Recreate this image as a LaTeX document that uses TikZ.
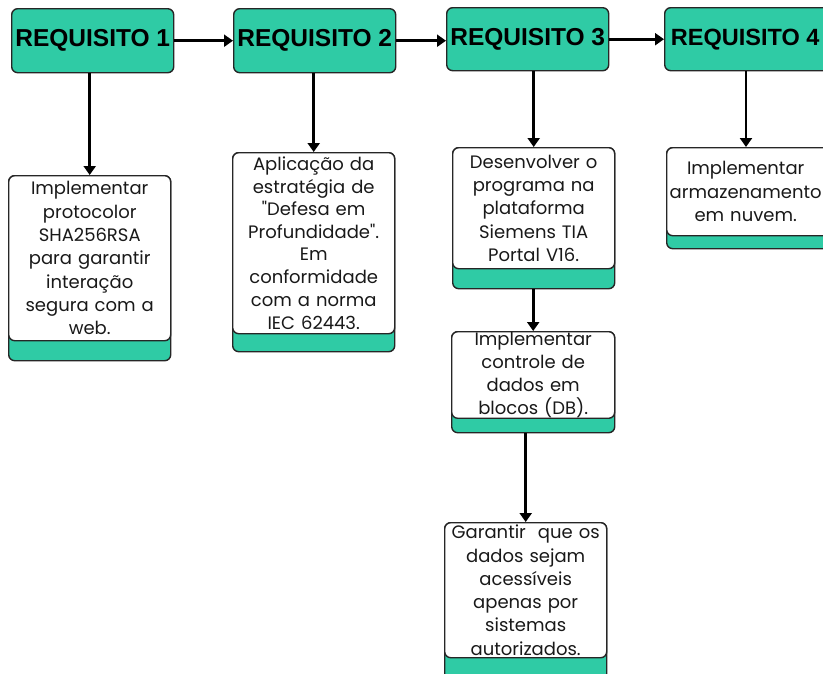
\documentclass[tikz,border=0pt]{standalone}
\usepackage{fontspec}
\setmainfont{Poppins}[Ligatures=TeXOff]
\newfontfamily\headfont{Liberation Sans}
\usetikzlibrary{arrows.meta}
\definecolor{teal1}{RGB}{47,203,165}
\definecolor{ink}{RGB}{25,25,25}

\begin{document}
\begin{tikzpicture}[x=1pt,y=-1pt,
    head/.style={draw=black!85, line width=1.4pt, fill=teal1, rounded corners=6pt,
        anchor=north west, minimum width=162pt, minimum height=64pt, inner sep=0pt,
        font=\headfont\bfseries\fontsize{24.5}{27}\selectfont},
    band/.style={draw=black!85, line width=1.4pt, fill=teal1, rounded corners=6pt,
        anchor=north west, minimum width=162pt, inner sep=0pt},
    card/.style={draw=black!85, line width=1.4pt, fill=white, rounded corners=6pt,
        anchor=north west, text width=162pt, inner sep=0pt, align=center, text=ink,
        font=\fontsize{18}{23.3}\selectfont},
    arr/.style={line width=2.8pt, -{Triangle[length=9pt,width=12pt]}}]
    \useasboundingbox (0,0) rectangle (823,673);
    \clip (0,0) rectangle (823,673);

    % top row
    \node[head] (r1) at (11,8) {\raisebox{2pt}{REQUISITO 1}};
    \node[head] (r2) at (233,8) {\raisebox{3pt}{REQUISITO 2}};
    \node[head, minimum height=63pt] (r3) at (446,7) {\raisebox{3pt}{REQUISITO 3}};
    \node[head, minimum height=63pt, minimum width=172pt, font=\headfont\bfseries\fontsize{23.5}{27}\selectfont] (r4) at (664,7) {\hspace*{-11pt}\raisebox{4pt}{REQUISITO 4}};

    % cards
    \node[band, minimum height=185pt] (b1) at (8,175) {};
    \node[card, minimum height=165pt] (c1) at (8,175) {Implementar\\protocolor\\SHA256RSA\\para garantir\\interação\\segura com a\\web.};

    \node[band, minimum height=199pt] (b2) at (232,152) {};
    \node[card, minimum height=181pt] (c2) at (232,152) {\fontsize{18}{22.6}\selectfont Aplicação da\\estratégia de\\"Defesa em\\Profundidade".\\Em\\conformidade\\com a norma\\IEC 62443.};

    \node[band, minimum height=141pt] (b3) at (452,147) {};
    \node[card, minimum height=121pt] (c3) at (452,147) {Desenvolver o\\programa na\\plataforma\\Siemens TIA\\Portal V16.};

    \node[band, minimum height=101pt, minimum width=170pt] (b4) at (666,147) {};
    \node[card, minimum height=88pt, text width=170pt] (c4) at (666,147) {\hspace*{-12pt}Implementar\\\hspace*{-12pt}armazenamento\\\hspace*{-12pt}em nuvem.};

    \node[band, minimum height=101pt, minimum width=163pt] (b5) at (451,331) {};
    \node[card, minimum height=86pt, text width=163pt] (c5) at (451,331) {Implementar\\controle de\\dados em\\blocos (DB).};

    \node[band, minimum height=160pt] (b6) at (444,522) {};
    \node[card, minimum height=135pt] (c6) at (444,522) {Garantir\ \ que os\\dados sejam\\acessíveis\\apenas por\\sistemas\\autorizados.};

    % connectors
    \draw[arr] (r1.east) -- (r2.west);
    \draw[arr] (r2.east) -- (r2.east -| r3.west);
    \draw[arr] (r3.east) -- (r3.east -| r4.west);
    \draw[arr] (r1.south -| c1.north) -- (c1.north);
    \draw[arr] (r2.south -| c2.north) -- (c2.north);
    \draw[arr] (r3.south -| c3.north) -- (c3.north);
    \draw[arr] (r4.south -| 746,0) -- (c4.north -| 746,0);
    \draw[arr] (b3.south -| c5.north) -- (c5.north);
    \draw[arr] (b5.south -| c6.north) -- (c6.north);

\end{tikzpicture}
\end{document}
